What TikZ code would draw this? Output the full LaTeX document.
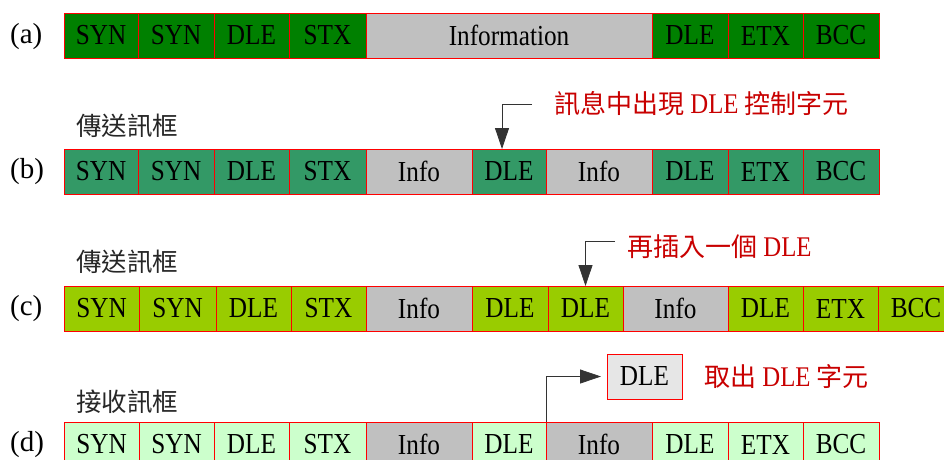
\documentclass[tikz,border=0pt]{standalone}
\usepackage{fontspec}
\setmainfont{Liberation Serif}
\newfontfamily\cellfont{Liberation Serif}[FakeStretch=0.87]
\newfontfamily\cjk{Noto Sans CJK TC}
\usetikzlibrary{arrows.meta}
\definecolor{ga}{RGB}{0,128,0}
\definecolor{gb}{RGB}{51,153,102}
\definecolor{gc}{RGB}{153,204,0}
\definecolor{gd}{RGB}{204,255,204}
\definecolor{infofill}{RGB}{192,192,192}
\definecolor{lblred}{RGB}{200,0,0}
\definecolor{boxgray}{RGB}{230,230,230}
\tikzset{
  cell/.style={draw=red, line width=0.8pt, inner sep=0pt, outer sep=0pt,
    minimum height=45pt, font=\cellfont\fontsize{29}{29}\selectfont, text=black},
  rowlbl/.style={anchor=west, inner sep=0pt, font=\fontsize{29}{29}\selectfont},
  framelbl/.style={anchor=west, inner sep=0pt, text=black!85, font=\cjk\fontsize{25.5}{26}\selectfont},
  redlbl/.style={anchor=west, inner sep=0pt, text=lblred, font=\cellfont\fontsize{28.5}{28.5}\selectfont},
  arr/.style={-{Triangle[length=21pt,width=14pt]}, line width=0.8pt, draw=black!80},
}
\newcommand\rcjk[1]{{\cjk\fontsize{26}{26}\selectfont #1}}
\newcommand\mkcell[6]{\node[cell, fill=#5, minimum width={#3-#2}] (#1) at ({(#2+#3)/2},{#4+22.5}) {#6};}
\begin{document}
\begin{tikzpicture}[x=1pt,y=-1pt]
\useasboundingbox (0,0) rectangle (944,459);
\clip (0,0) rectangle (944,459);
% row labels
\node[rowlbl] (la) at (10,36.5) {(a)};
\node[rowlbl] (lb) at (10,172) {(b)};
\node[rowlbl] (lc) at (10,309) {(c)};
\node[rowlbl] (ld) at (10,444.5) {(d)};
% row a
\mkcell{a1}{64}{138}{13}{ga}{SYN}
\mkcell{a2}{138}{214}{13}{ga}{SYN}
\mkcell{a3}{214}{289}{13}{ga}{DLE}
\mkcell{a4}{289}{366}{13}{ga}{STX}
\mkcell{a5}{366}{652}{13}{infofill}{Information}
\mkcell{a6}{652}{728}{13}{ga}{DLE}
\mkcell{a7}{728}{803}{13}{ga}{ETX}
\mkcell{a8}{803}{879}{13}{ga}{BCC}
% row b
\node[framelbl] (fb) at (76,126) {傳送訊框};
\mkcell{b1}{64}{138}{149}{gb}{SYN}
\mkcell{b2}{138}{214}{149}{gb}{SYN}
\mkcell{b3}{214}{289}{149}{gb}{DLE}
\mkcell{b4}{289}{366}{149}{gb}{STX}
\mkcell{b5}{366}{472}{149}{infofill}{Info}
\mkcell{b6}{472}{546}{149}{gb}{DLE}
\mkcell{b7}{546}{652}{149}{infofill}{Info}
\mkcell{b8}{652}{728}{149}{gb}{DLE}
\mkcell{b9}{728}{803}{149}{gb}{ETX}
\mkcell{b10}{803}{879}{149}{gb}{BCC}
\node[redlbl] (rb) at (554,104) {\rcjk{訊息中出現} DLE \rcjk{控制字元}};
\coordinate (bs) at (532,104);
\coordinate (bc) at (502,104);
\draw[arr] (bs) -- (bc) -- (bc |- b6.north);
% row c
\node[framelbl] (fc) at (76,262) {傳送訊框};
\mkcell{c1}{64}{139}{286}{gc}{SYN}
\mkcell{c2}{139}{216}{286}{gc}{SYN}
\mkcell{c3}{216}{291}{286}{gc}{DLE}
\mkcell{c4}{291}{366}{286}{gc}{STX}
\mkcell{c5}{366}{472}{286}{infofill}{Info}
\mkcell{c6}{472}{548}{286}{gc}{DLE}
\mkcell{c7}{548}{623}{286}{gc}{DLE}
\mkcell{c8}{623}{728}{286}{infofill}{Info}
\mkcell{c9}{728}{803}{286}{gc}{DLE}
\mkcell{c10}{803}{878}{286}{gc}{ETX}
\mkcell{c11}{878}{954}{286}{gc}{BCC}
\node[redlbl] (rc) at (627,247) {\rcjk{再插入一個} DLE};
\coordinate (cs) at (615,241);
\draw[arr] (cs) -| (c7.north);
% row d
\node[framelbl] (fd) at (76,402) {接收訊框};
\mkcell{d1}{64}{139}{422}{gd}{SYN}
\mkcell{d2}{139}{214}{422}{gd}{SYN}
\mkcell{d3}{214}{289}{422}{gd}{DLE}
\mkcell{d4}{289}{366}{422}{gd}{STX}
\mkcell{d5}{366}{472}{422}{infofill}{Info}
\mkcell{d6}{472}{546}{422}{gd}{DLE}
\mkcell{d7}{546}{652}{422}{infofill}{Info}
\mkcell{d8}{652}{728}{422}{gd}{DLE}
\mkcell{d9}{728}{803}{422}{gd}{ETX}
\mkcell{d10}{803}{879}{422}{gd}{BCC}
\node[cell, fill=boxgray, minimum width=75pt] (dbox) at (644.5,376.5) {DLE};
\node[redlbl] (rd) at (704,377) {\rcjk{取出} DLE \rcjk{字元}};
\draw[arr, shorten >=6pt] (d6.north east) |- (dbox.west);
\end{tikzpicture}
\end{document}
